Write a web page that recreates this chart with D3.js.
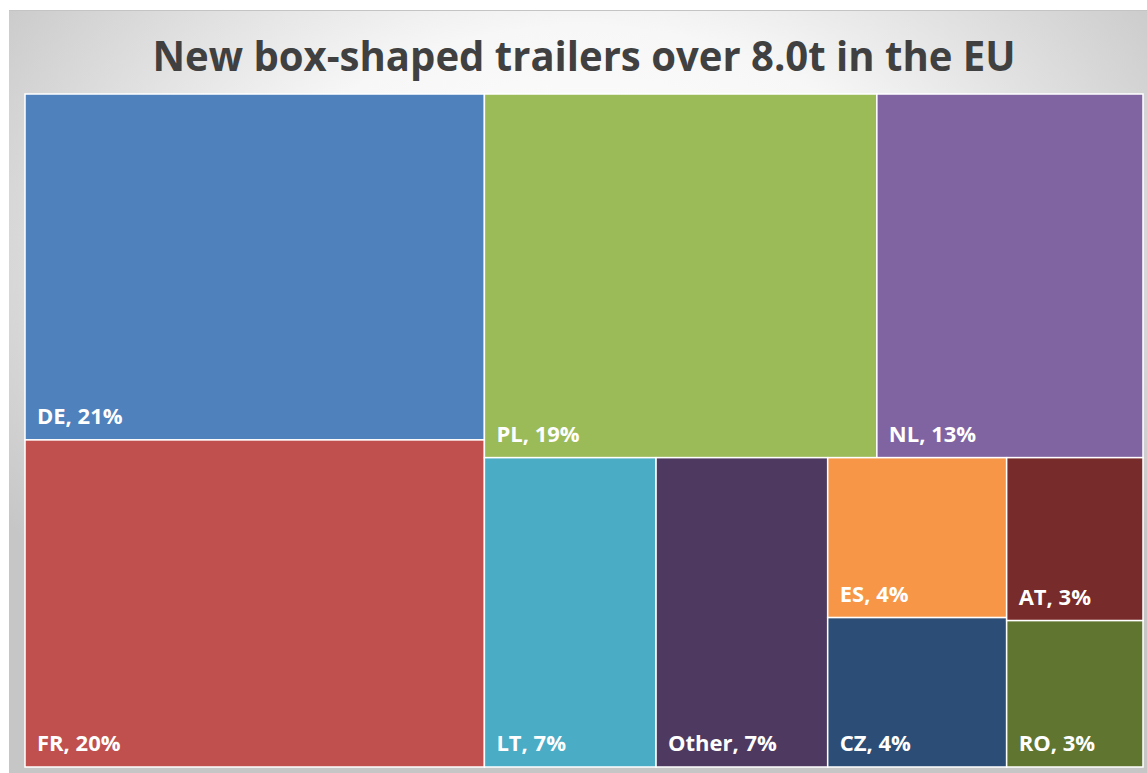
<!DOCTYPE html>
<html>
<head>
<meta charset="utf-8">
<script src="https://cdn.jsdelivr.net/npm/d3@7"></script>
<style>
  body { margin: 0; background: #fff; }
  svg { display: block; }
  .tile-label { font-family: "Open Sans", sans-serif; font-weight: bold; font-size: 22px; fill: #fff; }
  .title { font-family: "Open Sans", sans-serif; font-weight: bold; font-size: 42px; fill: #404040; }
</style>
</head>
<body>
<div id="chart-container"></div>
<script>
// Share of new box-shaped trailers (> 8.0t) per country, in %
var countries = ['DE', 'FR', 'PL', 'NL', 'LT', 'Other', 'ES', 'CZ', 'AT', 'RO']
var shares = [21.1, 19.95, 18.95, 12.85, 7.05, 7.05, 3.8, 3.55, 2.95, 2.65]
var colors = ['#4f81bd', '#c0504d', '#9bbb59', '#8064a2', '#4bacc6', '#4e3a60', '#f79646', '#2c4d75', '#772b2a', '#5f7530']
var TITLE = 'New box-shaped trailers over 8.0t in the EU'

var CONTAINER_WIDTH = 1147
var CONTAINER_HEIGHT = 773
var margin = {top: 94, right: 4, bottom: 6, left: 25}
var width = CONTAINER_WIDTH - margin.left - margin.right
var height = CONTAINER_HEIGHT - margin.top - margin.bottom

var svg = d3.select('#chart-container')
  .append('svg')
  .attr('width', CONTAINER_WIDTH)
  .attr('height', CONTAINER_HEIGHT)

// Chart area background (soft radial grey)
var grad = svg.append('defs').append('radialGradient')
  .attr('id', 'bg-grad')
  .attr('cx', '50%').attr('cy', '30%').attr('r', '62%')
grad.append('stop').attr('offset', '0%').attr('stop-color', '#ffffff')
grad.append('stop').attr('offset', '45%').attr('stop-color', '#f7f7f7')
grad.append('stop').attr('offset', '100%').attr('stop-color', '#c6c6c6')

svg.append('rect')
  .attr('x', 9).attr('y', 10)
  .attr('width', CONTAINER_WIDTH)
  .attr('height', CONTAINER_HEIGHT)
  .attr('fill', 'url(#bg-grad)')
svg.append('line')
  .attr('x1', 9).attr('x2', CONTAINER_WIDTH)
  .attr('y1', 10.5).attr('y2', 10.5)
  .attr('stroke', '#c4c4c4')

// Title
svg.append('text')
  .attr('class', 'title')
  .attr('x', margin.left + width / 2)
  .attr('y', 71)
  .attr('text-anchor', 'middle')
  .attr('textLength', 863)
  .attr('lengthAdjust', 'spacingAndGlyphs')
  .text(TITLE)

// Treemap layout
var data = countries.map(function(c, i) {
  return {name: c, value: shares[i], color: colors[i]}
})
var root = d3.hierarchy({children: data})
  .sum(function(d) { return d.value || 0 })
  .sort(function(a, b) { return b.value - a.value })

d3.treemap()
  .tile(d3.treemapSquarify.ratio(1))
  .size([width, height])(root)

var chart = svg.append('g')
  .attr('transform', 'translate(' + margin.left + ', ' + margin.top + ')')

var tiles = chart.selectAll('g.tile')
  .data(root.leaves())
  .enter().append('g')
  .attr('class', 'tile')
  .attr('transform', function(d) { return 'translate(' + d.x0 + ', ' + d.y0 + ')' })

tiles.append('rect')
  .attr('width', function(d) { return d.x1 - d.x0 })
  .attr('height', function(d) { return d.y1 - d.y0 })
  .attr('fill', function(d) { return d.data.color })
  .attr('stroke', '#ffffff')
  .attr('stroke-width', 1.5)

tiles.append('text')
  .attr('class', 'tile-label')
  .attr('x', 12)
  .attr('y', function(d) { return d.y1 - d.y0 - 16 })
  .text(function(d) { return d.data.name + ', ' + Math.round(d.data.value) + '%' })
</script>
</body>
</html>
